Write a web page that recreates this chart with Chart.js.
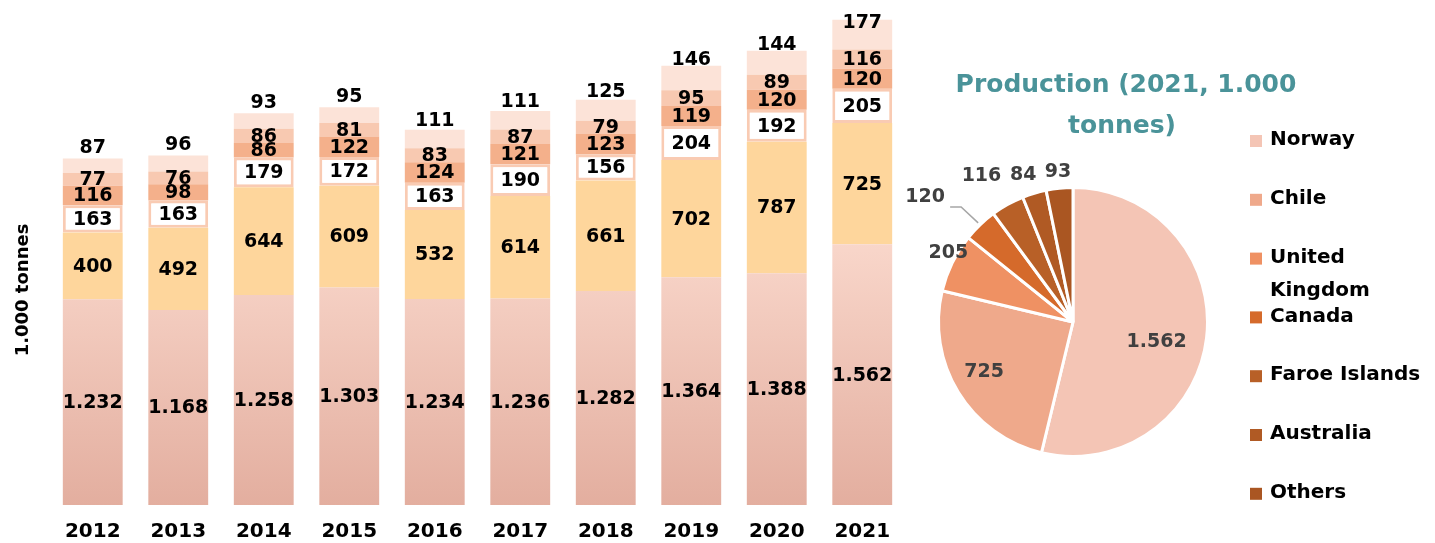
<!DOCTYPE html>
<html>
<head>
<meta charset="utf-8">
<script src="https://cdn.jsdelivr.net/npm/chart.js@4.4.1/dist/chart.umd.min.js"></script>
<style>
  html, body { margin: 0; padding: 0; background: #fff; }
  #wrap { position: relative; width: 1435px; height: 543px; }
  #barBox { position: absolute; left: 0; top: 0; width: 905px; height: 543px; }
  #pieBox { position: absolute; left: 900px; top: 0; width: 535px; height: 543px; }
</style>
</head>
<body>
<div id="wrap">
  <div id="barBox"><canvas id="bars"></canvas></div>
  <div id="pieBox"><canvas id="pie"></canvas></div>
</div>
<script>
// production per year, 1.000 tonnes
const years = ['2012', '2013', '2014', '2015', '2016', '2017', '2018', '2019', '2020', '2021'];
const norway = [1232, 1168, 1258, 1303, 1234, 1236, 1282, 1364, 1388, 1562];
const chile = [400, 492, 644, 609, 532, 614, 661, 702, 787, 725];
const uk = [163, 163, 179, 172, 163, 190, 156, 204, 192, 205];
const canada = [116, 98, 86, 122, 124, 121, 123, 119, 120, 120];
const faroe = [77, 76, 86, 81, 83, 87, 79, 95, 89, 116];
const others = [87, 96, 93, 95, 111, 111, 125, 146, 144, 177];

// pie 2021
const pieLabels = ['Norway', 'Chile', 'United Kingdom', 'Canada', 'Faroe Islands', 'Australia', 'Others'];
const pieValues = [1562, 725, 205, 120, 116, 84, 93];
const pieColors = ['#f4c5b5', '#efa98b', '#ef9163', '#d56a2b', '#b86027', '#b05a24', '#aa5622'];

const FONT = '"DejaVu Sans", Verdana, sans-serif';
const fmt = (v) => String(v).replace(/\B(?=(\d{3})+(?!\d))/g, '.');

// bar value labels (centered, top series pushed up like in the original)
const barLabels = {
  id: 'barLabels',
  afterDatasetsDraw(chart) {
    const ctx = chart.ctx;
    ctx.save();
    ctx.font = 'bold 19px ' + FONT;
    ctx.fillStyle = '#000';
    ctx.textAlign = 'center';
    ctx.textBaseline = 'middle';
    const last = chart.data.datasets.length - 1;
    chart.data.datasets.forEach((ds, i) => {
      const meta = chart.getDatasetMeta(i);
      meta.data.forEach((bar, j) => {
        let y = (bar.y + bar.base) / 2;
        if (i === last) y = Math.max(y - 19, 22);
        ctx.fillText(fmt(ds.data[j]), bar.x, y + 1);
      });
    });
    // axis title, sits a bit below the middle in the original
    ctx.translate(23, 290);
    ctx.rotate(-Math.PI / 2);
    ctx.font = 'bold 18px ' + FONT;
    ctx.fillText('1.000 tonnes', 0, 0);
    ctx.restore();
  }
};

new Chart(document.getElementById('bars').getContext('2d'), {
  type: 'bar',
  data: {
    labels: years,
    datasets: [
      {
        label: 'Norway',
        data: norway,
        backgroundColor: (c) => {
          const chart = c.chart;
          const area = chart.chartArea;
          if (!area) return '#f0c6b8';
          const g = chart.ctx.createLinearGradient(0, area.bottom, 0, chart.scales.y.getPixelForValue(1600));
          g.addColorStop(0, '#e3ae9f');
          g.addColorStop(1, '#f9d7cb');
          return g;
        },
      },
      { label: 'Chile', data: chile, backgroundColor: '#fed69c' },
      {
        label: 'United Kingdom',
        data: uk,
        backgroundColor: '#ffffff',
        borderColor: '#f9cbb3',
        borderWidth: 3,
        borderSkipped: false,
      },
      { label: 'Canada', data: canada, backgroundColor: '#f4b08b' },
      { label: 'Faroe Islands', data: faroe, backgroundColor: '#f8c9b1' },
      { label: 'Others', data: others, backgroundColor: '#fce3d8' },
    ],
  },
  options: {
    responsive: true,
    maintainAspectRatio: false,
    animation: false,
    layout: { padding: { top: 4, left: 0, right: 0, bottom: 0 } },
    datasets: { bar: { categoryPercentage: 1, barPercentage: 0.7 } },
    plugins: {
      legend: { display: false },
      tooltip: { enabled: false },
    },
    scales: {
      x: {
        stacked: true,
        grid: { display: false },
        border: { display: false },
        ticks: { color: '#000', font: { family: FONT, size: 20, weight: 'bold' }, padding: 7 },
        afterFit: (s) => { s.height = 38; },
      },
      y: {
        stacked: true,
        min: 0,
        max: 3000,
        grid: { display: false },
        border: { display: false },
        ticks: { display: false },
        afterFit: (s) => { s.width = 50; },
      },
    },
  },
  plugins: [barLabels],
});

// pie labels, title and legend
const labelPolar = [[0.64, 7], [0.76, 2], [1.06, 3], [1.44, -6], [1.28, -3], [1.15, -2], [1.12, 0]];

const pieExtras = {
  id: 'pieExtras',
  afterDatasetsDraw(chart) {
    const ctx = chart.ctx;
    const arcs = chart.getDatasetMeta(0).data;
    ctx.save();
    ctx.textAlign = 'center';
    ctx.textBaseline = 'middle';
    ctx.font = 'bold 19px ' + FONT;
    ctx.fillStyle = '#404040';
    arcs.forEach((arc, i) => {
      const mid = (arc.startAngle + arc.endAngle) / 2;
      const [rf, shift] = labelPolar[i];
      const a = mid + shift * Math.PI / 180;
      const r = arc.outerRadius * rf;
      const x = arc.x + Math.cos(a) * r;
      const y = arc.y + Math.sin(a) * r;
      ctx.fillText(fmt(pieValues[i]), x, y);
      if (i === 3) {
        // leader line for Canada
        const ex = arc.x + Math.cos(mid) * arc.outerRadius * 1.02;
        const ey = arc.y + Math.sin(mid) * arc.outerRadius * 1.02;
        ctx.beginPath();
        ctx.strokeStyle = '#a6a6a6';
        ctx.lineWidth = 1.5;
        ctx.moveTo(ex, ey);
        ctx.lineTo(ex - 17, ey - 16);
        ctx.lineTo(ex - 28, ey - 16);
        ctx.stroke();
      }
    });

    // title
    ctx.fillStyle = '#4a9399';
    ctx.font = 'bold 25px ' + FONT;
    ctx.fillText('Production (2021, 1.000', 226, 85);
    ctx.fillText('tonnes)', 222, 126);

    // legend
    ctx.textAlign = 'left';
    ctx.font = 'bold 20px ' + FONT;
    pieLabels.forEach((name, i) => {
      const y = 140 + i * 58.8;
      ctx.fillStyle = pieColors[i];
      ctx.fillRect(350, y - 5, 12, 12);
      ctx.fillStyle = '#000';
      if (name === 'United Kingdom') {
        ctx.fillText('United', 370, y);
        ctx.fillText('Kingdom', 370, y + 33);
      } else {
        ctx.fillText(name, 370, y);
      }
    });
    ctx.restore();
  }
};

new Chart(document.getElementById('pie').getContext('2d'), {
  type: 'pie',
  data: {
    labels: pieLabels,
    datasets: [{
      data: pieValues,
      backgroundColor: pieColors,
      borderColor: '#ffffff',
      borderWidth: 3,
    }],
  },
  options: {
    responsive: true,
    maintainAspectRatio: false,
    animation: false,
    layout: { padding: { left: 37, right: 226, top: 186, bottom: 85 } },
    plugins: {
      legend: { display: false },
      tooltip: { enabled: false },
    },
  },
  plugins: [pieExtras],
});
</script>
</body>
</html>
